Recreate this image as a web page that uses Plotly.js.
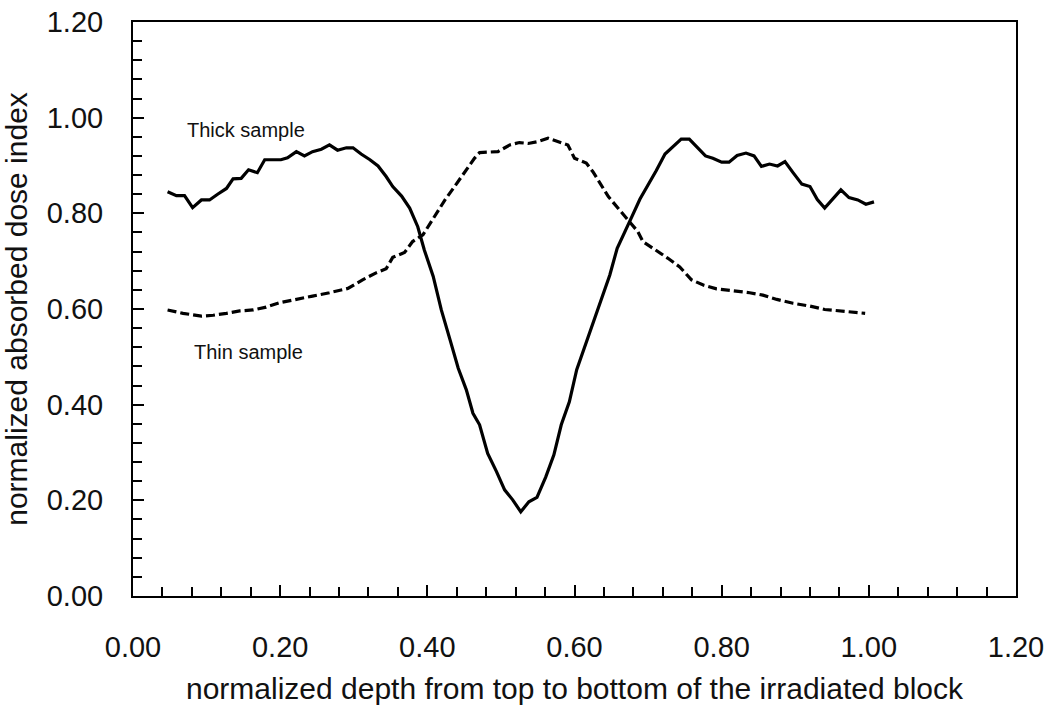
<!DOCTYPE html>
<html>
<head>
<meta charset="utf-8">
<script src="https://cdn.plot.ly/plotly-3.0.1.min.js"></script>
<style>html,body{margin:0;padding:0;background:#fff;}</style>
</head>
<body>
<div id="chart" style="width:1049px;height:711px;"></div>
<script>
// Thick sample (solid line)
const thickX = [0.047,0.059,0.070,0.081,0.093,0.104,0.115,0.127,0.136,0.147,0.157,0.169,0.179,0.190,0.201,0.210,0.222,0.233,0.244,0.256,0.267,0.278,0.290,0.299,0.310,0.322,0.333,0.344,0.353,0.365,0.376,0.387,0.396,0.408,0.419,0.431,0.442,0.453,0.462,0.471,0.482,0.494,0.505,0.516,0.527,0.538,0.549,0.561,0.572,0.582,0.593,0.603,0.614,0.625,0.637,0.648,0.658,0.668,0.678,0.689,0.700,0.711,0.723,0.734,0.745,0.756,0.767,0.778,0.788,0.800,0.810,0.821,0.833,0.844,0.854,0.865,0.876,0.886,0.897,0.909,0.920,0.930,0.940,0.951,0.962,0.973,0.985,0.996,1.007];
const thickY = [0.845,0.837,0.837,0.812,0.828,0.828,0.840,0.852,0.872,0.873,0.891,0.885,0.912,0.912,0.912,0.916,0.929,0.920,0.929,0.934,0.943,0.932,0.937,0.937,0.924,0.912,0.899,0.877,0.856,0.836,0.811,0.772,0.723,0.668,0.598,0.535,0.476,0.431,0.382,0.358,0.298,0.260,0.222,0.201,0.176,0.197,0.206,0.249,0.295,0.358,0.406,0.473,0.521,0.570,0.619,0.671,0.727,0.762,0.793,0.830,0.858,0.889,0.924,0.940,0.955,0.955,0.937,0.920,0.915,0.907,0.907,0.921,0.926,0.920,0.898,0.903,0.899,0.908,0.885,0.861,0.856,0.829,0.811,0.829,0.849,0.833,0.828,0.819,0.824];

// Thin sample (dashed line)
const thinX = [0.047,0.068,0.093,0.109,0.127,0.145,0.163,0.181,0.199,0.222,0.244,0.267,0.292,0.312,0.331,0.344,0.353,0.369,0.380,0.394,0.408,0.424,0.437,0.451,0.464,0.471,0.485,0.496,0.512,0.525,0.537,0.550,0.564,0.578,0.591,0.600,0.616,0.625,0.634,0.646,0.659,0.673,0.686,0.693,0.711,0.727,0.743,0.759,0.775,0.793,0.816,0.838,0.856,0.875,0.897,0.920,0.940,0.961,0.979,0.995];
const thinY = [0.598,0.591,0.585,0.587,0.591,0.596,0.598,0.604,0.613,0.621,0.627,0.634,0.643,0.661,0.676,0.684,0.708,0.718,0.741,0.755,0.790,0.828,0.856,0.887,0.915,0.927,0.929,0.929,0.943,0.948,0.946,0.950,0.957,0.950,0.943,0.915,0.905,0.887,0.866,0.835,0.811,0.786,0.762,0.741,0.723,0.706,0.688,0.661,0.650,0.642,0.638,0.634,0.629,0.620,0.612,0.606,0.599,0.596,0.593,0.591];

const tickVals = [0, 0.2, 0.4, 0.6, 0.8, 1.0, 1.2];
const tickText = ["0.00","0.20","0.40","0.60","0.80","1.00","1.20"];
const xTitle = "normalized depth from top to bottom of the irradiated block";
const yTitle = "normalized absorbed dose index";
const labelThick = "Thick sample";
const labelThin = "Thin sample";

const FONT = "Liberation Sans, Arial, sans-serif";

const traces = [
  {x: thickX, y: thickY, type: 'scatter', mode: 'lines', name: labelThick,
   line: {color: '#000', width: 3.2}},
  {x: thinX, y: thinY, type: 'scatter', mode: 'lines', name: labelThin,
   line: {color: '#000', width: 3.2, dash: '9px,4px'}}
];

const axisCommon = {
  range: [0, 1.2],
  tickvals: tickVals,
  ticktext: tickText,
  ticks: 'inside',
  ticklen: 11,
  tickwidth: 2,
  tickcolor: '#000',
  showline: true,
  linecolor: '#000',
  linewidth: 2,
  mirror: true,
  showgrid: false,
  zeroline: false,
  tickfont: {family: FONT, size: 29, color: '#111'},
  minor: {dtick: 0.04, ticks: 'inside', ticklen: 9, tickwidth: 2, tickcolor: '#000', showgrid: false}
};

const layout = {
  width: 1049,
  height: 711,
  margin: {l: 133, r: 33, t: 22, b: 115},
  paper_bgcolor: '#fff',
  plot_bgcolor: '#fff',
  showlegend: false,
  font: {family: FONT, color: '#000'},
  xaxis: Object.assign({}, axisCommon, {
    ticklabelstandoff: 24,
    title: {text: xTitle, font: {family: FONT, size: 30, color: '#111'}, standoff: 16}
  }),
  yaxis: Object.assign({}, axisCommon, {
    ticklabelstandoff: 22,
    title: {text: yTitle, font: {family: FONT, size: 30, color: '#111'}, standoff: 10}
  }),
  annotations: [
    {x: 0.153, y: 0.975, xref: 'x', yref: 'y', text: labelThick, showarrow: false,
     font: {family: FONT, size: 20, color: '#111'}},
    {x: 0.157, y: 0.51, xref: 'x', yref: 'y', text: labelThin, showarrow: false,
     font: {family: FONT, size: 20, color: '#111'}}
  ]
};

Plotly.newPlot('chart', traces, layout, {displayModeBar: false, staticPlot: true});
</script>
</body>
</html>
